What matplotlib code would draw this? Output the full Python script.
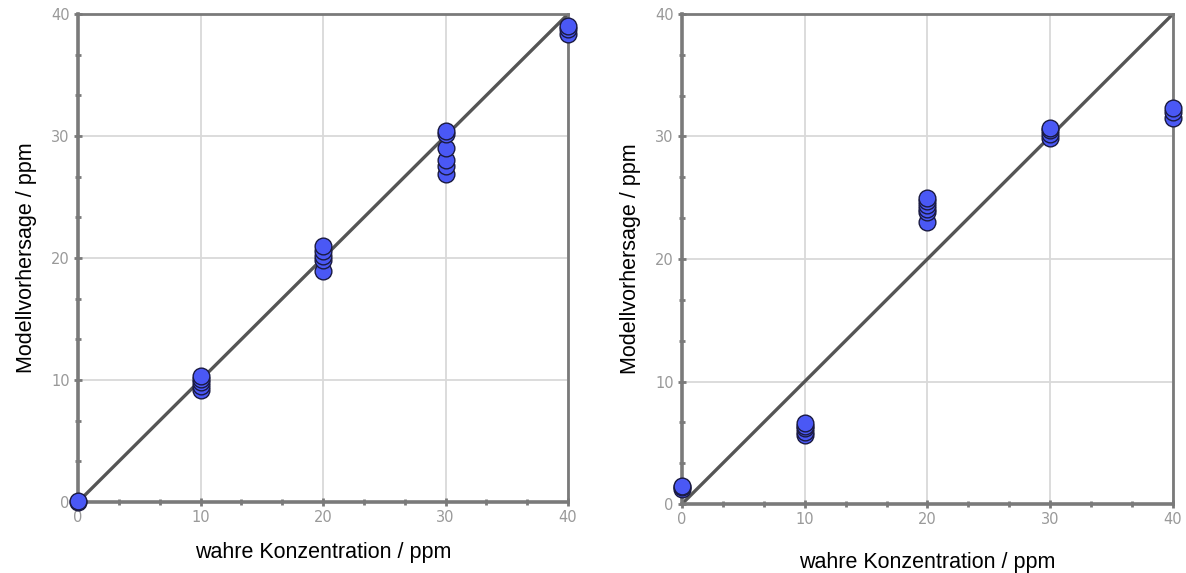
import matplotlib
matplotlib.use("Agg")
import matplotlib.pyplot as plt
from matplotlib.ticker import MultipleLocator

# left panel: true vs predicted concentration (ppm)
true_left = [0, 0,
             10, 10, 10, 10, 10,
             20, 20, 20, 20, 20,
             30, 30, 30, 30, 30, 30,
             40, 40, 40]
pred_left = [0.0, 0.1,
             9.2, 9.5, 9.8, 10.1, 10.3,
             18.9, 19.8, 20.2, 20.6, 21.0,
             26.9, 27.5, 28.0, 29.0, 30.2, 30.4,
             38.4, 38.8, 39.0]

# right panel
true_right = [0, 0, 0,
              10, 10, 10, 10, 10,
              20, 20, 20, 20, 20, 20,
              30, 30, 30, 30,
              40, 40, 40]
pred_right = [1.2, 1.4, 1.5,
              5.6, 5.9, 6.2, 6.4, 6.6,
              23.0, 23.8, 24.1, 24.4, 24.7, 25.0,
              29.9, 30.2, 30.5, 30.7,
              31.5, 32.0, 32.3]

ticks = [0, 10, 20, 30, 40]

fig = plt.figure(figsize=(11.86, 5.73), dpi=100)
ax1 = fig.add_axes([0.0658, 0.1239, 0.4132, 0.8517])
ax2 = fig.add_axes([0.5750, 0.1204, 0.4140, 0.8552])

spine_col = "#7a7a7a"
for ax, xs, ys in [(ax1, true_left, pred_left), (ax2, true_right, pred_right)]:
    ax.set_xlim(0, 40)
    ax.set_ylim(0, 40)
    ax.set_xticks(ticks)
    ax.set_yticks(ticks)
    ax.xaxis.set_minor_locator(MultipleLocator(10 / 3))
    ax.yaxis.set_minor_locator(MultipleLocator(10 / 3))
    ax.grid(True, which="major", color="#d9d9d9", linewidth=1.3)
    ax.set_axisbelow(True)
    for side in ["left", "bottom"]:
        ax.spines[side].set_color(spine_col)
        ax.spines[side].set_linewidth(2.6)
    for side in ["top", "right"]:
        ax.spines[side].set_color(spine_col)
        ax.spines[side].set_linewidth(2.0)
    ax.tick_params(which="both", direction="inout", length=6, width=2,
                   color=spine_col, labelcolor="#999999", labelsize=10.5, pad=3)
    ax.tick_params(which="minor", length=5)
    ax.plot([0, 40], [0, 40], color="#555555", linewidth=2.4, zorder=2)
    ax.scatter(xs, ys, s=145, color="#4a58f5", edgecolor="#1a1a40",
               linewidth=1.0, zorder=3, clip_on=False)
    ax.set_ylabel("Modellvorhersage / ppm", fontsize=15.5,
                  family="Liberation Sans", labelpad=10)

ax1.set_xlabel("wahre Konzentration / ppm", fontsize=15.5,
               family="Liberation Sans", labelpad=12)
ax2.set_xlabel("wahre Konzentration / ppm", fontsize=15.5,
               family="Liberation Sans", labelpad=18)

fig.savefig("out.png", dpi=100, facecolor="white")
